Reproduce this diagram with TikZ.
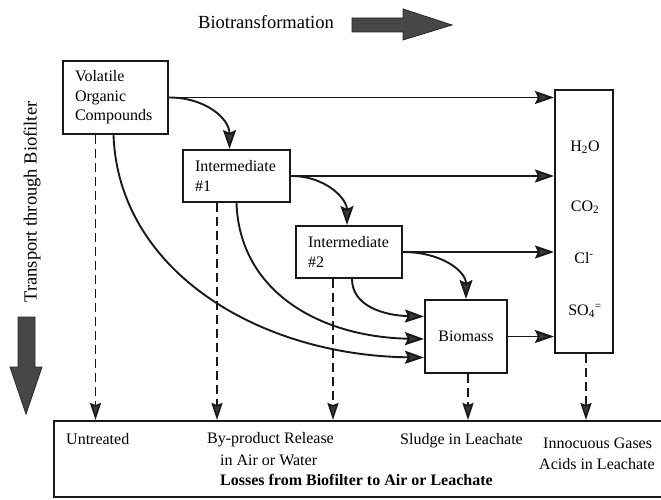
\documentclass[tikz,border=0pt]{standalone}
\usepackage{fontspec}
\setmainfont{Liberation Serif}
\usetikzlibrary{arrows.meta,calc}
\begin{document}
\begin{tikzpicture}[x=1pt,y=-1pt,
  box/.style={draw=black!90, line width=2.1pt, inner ysep=0pt, font=\fontsize{16}{19.5}\selectfont, text=black},
  lbl/.style={font=\fontsize{16}{19}\selectfont, inner sep=0pt, anchor=west, text=black},
  arr/.style={draw=black!90, line width=1.9pt, -{Stealth[length=19pt,width=13pt,inset=3pt,fill=black!78]}},
  dashline/.style={draw=black!90, line width=1.6pt, dash pattern=on 9pt off 5pt, -{Stealth[length=17pt,width=11pt,inset=2pt,fill=black!78]}},
  bigarrow/.style={fill=black!72, draw=black!85, line width=0.8pt}
]
\useasboundingbox (0,0) rectangle (661,500);

% boxes
\node[box, text width=81pt, inner xsep=12pt, minimum height=73pt, align=left] (voc) at (115.5,97.5) {Volatile\\Organic\\Compounds};
\node[box, text width=83pt, inner xsep=12pt, minimum height=52pt, align=left] (int1) at (236.5,176) {Intermediate\\\#1};
\node[box, text width=82pt, inner xsep=12pt, minimum height=52pt, align=left] (int2) at (349,252) {Intermediate\\\#2};
\node[box, minimum width=82pt, minimum height=73pt] (bio) at (466,336.5) {Biomass};
\node[box, minimum width=58pt, minimum height=263pt] (out) at (584,221.5) {};
\node[box, minimum width=612pt, minimum height=76pt, anchor=north west] (loss) at (53,420) {};

% products
\node[lbl, anchor=center] (h2o) at (585,147) {H\textsubscript{2}O};
\node[lbl, anchor=center] (co2) at (585,207) {CO\textsubscript{2}};
\node[lbl, anchor=center] (cl) at (584,258) {Cl\textsuperscript{-}};
\node[lbl, anchor=center] (so4) at (585,311) {SO\textsubscript{4}\textsuperscript{=}};

% headings
\node[font=\fontsize{18.5}{22}\selectfont, anchor=west, inner sep=0pt, text=black] (bt) at (198,22) {Biotransformation};
\node[font=\fontsize{18.5}{22}\selectfont, rotate=90, inner sep=0pt, text=black] (tb) at (32,202) {Transport through Biofilter};
\filldraw[bigarrow] (352,18) -- (403,18) -- (403,9) -- (452,25) -- (403,40) -- (403,32) -- (352,32) -- cycle;
\filldraw[bigarrow] (18,317) -- (35,317) -- (35,367) -- (42,367) -- (26,414) -- (10,367) -- (18,367) -- cycle;

% bottom texts
\node[lbl] (untr) at (66,439) {Untreated};
\node[lbl] (byp1) at (207,440) {By-product Release};
\node[lbl] (byp2) at (220,460) {in Air or Water};
\node[lbl, font=\fontsize{16}{19}\selectfont\bfseries] (losses) at (220,480) {Losses from Biofilter to Air or Leachate};
\node[lbl] (sludge) at (400,441) {Sludge in Leachate};
\node[lbl] (gases) at (543,443) {Innocuous Gases};
\node[lbl] (acids) at (539,464) {Acids in Leachate};

% straight arrows to products
\draw[arr] (voc.east) -- (voc.east -| out.west);
\draw[arr] (int1.east) -- (int1.east -| out.west);
\draw[arr] (int2.east) -- (int2.east -| out.west);
\draw[arr] (bio.east) -- (bio.east -| out.west);

% curved arrows
\draw[arr] (voc.east) .. controls +(37,0) and +(0,-30) .. ([xshift=-7pt]int1.north);
\draw[arr] (int1.east) .. controls +(35,0) and +(0,-26) .. ([xshift=-2pt]int2.north);
\draw[arr] (int2.east) .. controls +(38,0) and +(0,-28) .. (bio.north);
\draw[arr] ([xshift=3pt]int2.south) .. controls +(0,27) and +(-40,-1) .. ([yshift=20pt]bio.west);
\draw[arr] (int1.south) .. controls +(3,88) and +(-105,-2) .. ([yshift=-2.5pt]bio.west);
\draw[arr] ([xshift=-2pt]voc.south) .. controls +(5,136) and +(-165,-2) .. ([yshift=-21pt]bio.west);

% dashed transport arrows
\draw[dashline] ([xshift=-20pt]voc.south) -- ([xshift=-20pt]voc.south |- loss.north);
\draw[dashline] ([xshift=-19.5pt]int1.south) -- ([xshift=-19.5pt]int1.south |- loss.north);
\draw[dashline] ([xshift=-16pt]int2.south) -- ([xshift=-16pt]int2.south |- loss.north);
\draw[dashline] ([xshift=2pt]bio.south) -- ([xshift=2pt]bio.south |- loss.north);
\draw[dashline] ([xshift=2pt]out.south) -- ([xshift=2pt]out.south |- loss.north);
\end{tikzpicture}
\end{document}
